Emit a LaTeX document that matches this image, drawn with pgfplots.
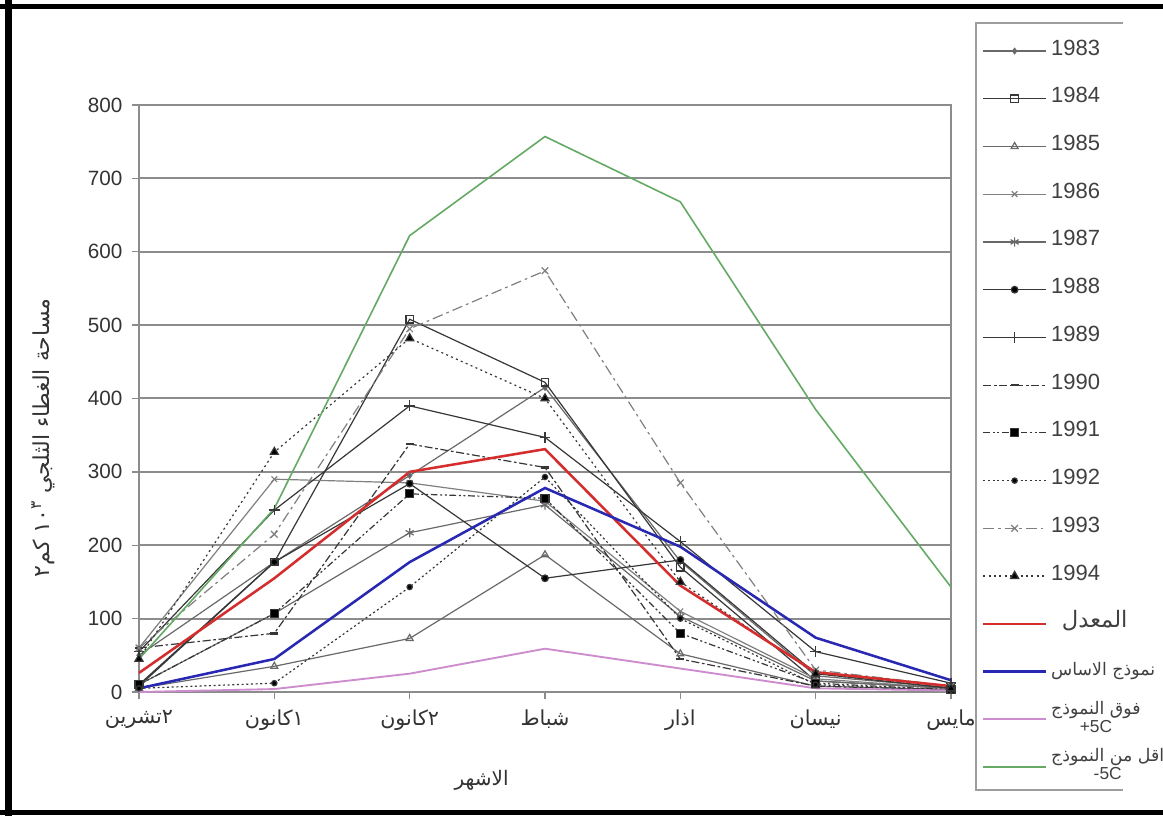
\documentclass[border=0pt]{standalone}
\usepackage{fontspec}
\setmainfont{Liberation Sans}
\newfontfamily\ar[Script=Arabic]{DejaVu Sans}
\TeXXeTstate=1
\usepackage{pgfplots}
\pgfplotsset{compat=1.18}
\definecolor{gridc}{RGB}{140,140,140}
\definecolor{sgray}{RGB}{105,105,105}
\definecolor{sdark}{RGB}{55,55,55}
\definecolor{myred}{RGB}{212,45,45}
\definecolor{myblue}{RGB}{40,40,178}
\definecolor{mypink}{RGB}{205,140,205}
\definecolor{mygreen}{RGB}{100,170,100}
\pgfplotsset{yr/.style={color=sgray, line width=0.9pt}}
\newcommand{\arw}[2]{\hbox{\ar #1}\hbox{\ar #2}}
\begin{document}
\begin{tikzpicture}[x=0.75pt,y=0.75pt]
\useasboundingbox (0,0) rectangle (1163,816);
\fill[white] (0,0) rectangle (1163,816);
\draw[black, line width=5pt] (8.5,0) -- (8.5,816);
\draw[black, line width=3.75pt] (0,809.5) -- (1163,809.5);
\draw[black, line width=3.75pt] (0,3.5) -- (1163,3.5);
\draw[gridc!85, line width=1.5pt] (1123,793) -- (976,793) -- (976,26) -- (1123,26);
\begin{axis}[
 at={(104.25pt,93pt)}, anchor=south west,
 scale only axis, width=609pt, height=440.25pt,
 xmin=0, xmax=6, ymin=0, ymax=800,
 clip=false,
 xtick={0,...,6},
 xticklabels={\arw{تشرين}{٢},\arw{كانون}{١},\arw{كانون}{٢},{\ar شباط},{\ar اذار},{\ar نيسان},{\ar مايس}},
 ytick={0,100,...,800},
 /pgf/number format/assume math mode=true,
 ymajorgrids,
 major grid style={gridc, line width=1.5pt},
 axis line style={gridc, line width=1.5pt},
 tick style={gridc, line width=1pt},
 tick align=outside, major tick length=5pt,
 tick pos=left,
 tick label style={font=\fontsize{15.5}{16}\selectfont, text=black!80},
 xticklabel style={yshift=-5pt},
 yticklabel style={xshift=-4pt},
 xlabel={\ar\fontsize{15}{15}\selectfont الاشهر},
 xlabel style={at={(axis description cs:0.422,-0.150)}, anchor=center, text=black!80},
 ylabel={\ar\fontsize{16.5}{16.5}\selectfont\beginR مساحة الغطاء الثلجي \beginL١٠\textsuperscript{٣}\endL{} كم٢\endR},
 ylabel style={at={(axis description cs:-0.118,0.433)}, anchor=center, text=black!80},
 legend style={at={(axis description cs:1.0382,1.1056)}, anchor=north west, draw=none, fill=none,
   inner sep=0pt, outer sep=0pt, row sep=23.8pt, /tikz/column sep=3pt,
   nodes={inner sep=0pt, text height=9pt, text depth=3pt,
   font=\fontsize{16.5}{16.5}\selectfont, text=black!75}},
 legend cell align=left,
 legend image code/.code={\draw[mark repeat=2,mark phase=2,#1] plot coordinates {(0pt,0pt) (23.5pt,0pt) (47pt,0pt)};},
]
\addplot[yr, mark=diamond*, mark size=2pt, mark options={solid, fill=sgray}] coordinates {(0,50) (1,177) (2,295) (3,415) (4,178) (5,22) (6,6)};
\addlegendentry{1983}
\addplot[yr, color=sdark, mark=square, mark size=2.8pt, mark options={solid, fill=white}] coordinates {(0,8) (1,177) (2,508) (3,422) (4,170) (5,15) (6,5)};
\addlegendentry{1984}
\addplot[yr, mark=triangle, mark size=3pt, mark options={solid, fill=white}] coordinates {(0,5) (1,35) (2,73) (3,187) (4,52) (5,8) (6,3)};
\addlegendentry{1985}
\addplot[yr, color=gray, mark=x, mark size=3pt, mark options={solid}] coordinates {(0,60) (1,290) (2,285) (3,260) (4,110) (5,18) (6,5)};
\addlegendentry{1986}
\addplot[yr, mark=asterisk, mark size=3.5pt, mark options={solid}] coordinates {(0,10) (1,107) (2,217) (3,255) (4,103) (5,15) (6,5)};
\addlegendentry{1987}
\addplot[yr, color=sdark, mark=*, mark size=2.5pt, mark options={solid, fill=black}] coordinates {(0,10) (1,177) (2,284) (3,155) (4,180) (5,25) (6,5)};
\addlegendentry{1988}
\addplot[yr, color=sdark, mark=+, mark size=4pt, mark options={solid, line width=1.2pt}] coordinates {(0,55) (1,248) (2,390) (3,347) (4,205) (5,55) (6,12)};
\addlegendentry{1989}
\addplot[yr, color=sdark, dash pattern=on 6pt off 2pt on 2pt off 2pt, mark=-, mark size=3pt, mark options={solid, line width=2pt}] coordinates {(0,60) (1,80) (2,338) (3,306) (4,45) (5,8) (6,3)};
\addlegendentry{1990}
\addplot[yr, color=sdark, dash pattern=on 5pt off 2pt on 1.5pt off 2pt on 1.5pt off 2pt, mark=square*, mark size=3pt, mark options={solid, fill=black}] coordinates {(0,10) (1,107) (2,270) (3,264) (4,80) (5,12) (6,3)};
\addlegendentry{1991}
\addplot[yr, color=sdark, dash pattern=on 1.5pt off 2pt, mark=*, mark size=2pt, mark options={solid, fill=black}] coordinates {(0,5) (1,12) (2,143) (3,293) (4,100) (5,10) (6,3)};
\addlegendentry{1992}
\addplot[yr, color=gray, dash pattern=on 8pt off 3pt on 2pt off 3pt, mark=x, mark size=3.5pt, mark options={solid}] coordinates {(0,60) (1,215) (2,495) (3,574) (4,285) (5,30) (6,8)};
\addlegendentry{1993}
\addplot[yr, color=sdark, dash pattern=on 1.5pt off 2.5pt, mark=triangle*, mark size=3.5pt, mark options={solid, fill=black}] coordinates {(0,45) (1,327) (2,482) (3,400) (4,150) (5,25) (6,5)};
\addlegendentry{1994}
\addplot[myred, line width=1.9pt] coordinates {(0,26) (1,155) (2,300) (3,331) (4,145) (5,27) (6,8)};
\addlegendentry{\ar\fontsize{17}{17}\selectfont\hspace{8pt}المعدل}
\addplot[myblue, line width=1.9pt] coordinates {(0,5) (1,45) (2,177) (3,278) (4,198) (5,74) (6,16)};
\addlegendentry{\ar\fontsize{13}{13}\selectfont\beginR نموذج الاساس\endR}
\addplot[mypink, line width=1.4pt] coordinates {(0,0) (1,4) (2,25) (3,59) (4,32) (5,5) (6,2)};
\addlegendentry{\fontsize{13}{13.5}\selectfont\begin{tabular}[c]{@{}c@{}}\ar\beginR فوق النموذج\endR\\ +5C\end{tabular}}
\addplot[mygreen, line width=1.2pt] coordinates {(0,45) (1,250) (2,622) (3,757) (4,668) (5,385) (6,143)};
\addlegendentry{\fontsize{13}{13.5}\selectfont\begin{tabular}[c]{@{}c@{}}\ar\beginR اقل من النموذج\endR\\ -5C\end{tabular}}
\end{axis}
\end{tikzpicture}
\end{document}
